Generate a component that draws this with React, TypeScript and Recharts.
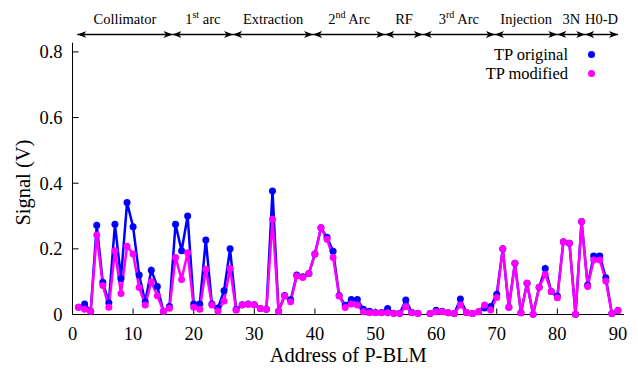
import React from "react";
import { LineChart, Line, XAxis, YAxis, ReferenceLine, Legend } from "recharts";

// P-BLM addresses 1..90 (58 has no reading)
const addresses = [
  1, 2, 3, 4, 5, 6, 7, 8, 9, 10, 11, 12, 13, 14, 15, 16, 17, 18, 19, 20,
  21, 22, 23, 24, 25, 26, 27, 28, 29, 30, 31, 32, 33, 34, 35, 36, 37, 38, 39, 40,
  41, 42, 43, 44, 45, 46, 47, 48, 49, 50, 51, 52, 53, 54, 55, 56, 57, 58, 59, 60,
  61, 62, 63, 64, 65, 66, 67, 68, 69, 70, 71, 72, 73, 74, 75, 76, 77, 78, 79, 80,
  81, 82, 83, 84, 85, 86, 87, 88, 89, 90,
];

const tpOriginal = [
  0.022, 0.032, 0.01, 0.272, 0.098, 0.036, 0.275, 0.11, 0.341, 0.267,
  0.12, 0.039, 0.135, 0.085, 0.01, 0.024, 0.275, 0.194, 0.3, 0.032,
  0.032, 0.227, 0.032, 0.02, 0.072, 0.2, 0.015, 0.03, 0.032, 0.03,
  0.018, 0.016, 0.376, 0.01, 0.058, 0.045, 0.12, 0.115, 0.125, 0.184,
  0.264, 0.235, 0.193, 0.058, 0.028, 0.046, 0.046, 0.016, 0.01, 0.006,
  0.006, 0.018, 0.004, 0.004, 0.044, 0.006, 0.004, null, 0.003, 0.013,
  0.01, 0.005, 0.003, 0.047, 0.006, 0.003, 0.008, 0.02, 0.024, 0.062,
  0.2, 0.022, 0.156, 0.005, 0.095, 0.001, 0.083, 0.14, 0.07, 0.056,
  0.222, 0.217, 0.001, 0.283, 0.09, 0.178, 0.178, 0.112, 0.003, 0.012,
];

const tpModified = [
  0.022, 0.016, 0.01, 0.242, 0.088, 0.022, 0.194, 0.064, 0.208, 0.184,
  0.082, 0.029, 0.1, 0.057, 0.01, 0.019, 0.174, 0.107, 0.188, 0.022,
  0.016, 0.138, 0.029, 0.01, 0.041, 0.14, 0.013, 0.029, 0.031, 0.03,
  0.018, 0.016, 0.29, 0.01, 0.056, 0.039, 0.117, 0.113, 0.125, 0.184,
  0.264, 0.229, 0.174, 0.056, 0.021, 0.032, 0.029, 0.008, 0.005, 0.005,
  0.005, 0.005, 0.003, 0.003, 0.024, 0.005, 0.003, null, 0.003, 0.008,
  0.008, 0.005, 0.003, 0.029, 0.006, 0.003, 0.008, 0.029, 0.014, 0.052,
  0.2, 0.022, 0.156, 0.005, 0.095, 0.001, 0.083, 0.122, 0.07, 0.051,
  0.222, 0.217, 0.001, 0.283, 0.085, 0.166, 0.166, 0.102, 0.003, 0.012,
];

const xTicks = [0, 10, 20, 30, 40, 50, 60, 70, 80, 90];
const yTicks = [0, 0.2, 0.4, 0.6, 0.8];

// ring sections along the address axis
const sectionEdges = [0.8, 16.5, 26.5, 39.7, 51.6, 57.8, 69.7, 80, 84.6, 90];
const sectionNames = [
  "Collimator", "1^{st} arc", "Extraction", "2^{nd} Arc", "RF",
  "3^{rd} Arc", "Injection", "3N", "H0-D",
];

const seriesNames = ["TP original", "TP modified"];
const seriesColors = ["#0000ff", "#ff00ff"];

const data = addresses.map((a, i) => ({
  address: a,
  original: tpOriginal[i],
  modified: tpModified[i],
}));

const FONT = "'Liberation Serif', 'Times New Roman', serif";
const ARROW_Y = 0.853;

const SectionLabel = (props: any) => {
  const vb = props.viewBox || {};
  const cx = vb.width !== undefined ? vb.x + vb.width / 2 : (vb.x1 + vb.x2) / 2;
  const y = vb.y !== undefined ? vb.y : vb.y1;
  const m = /^(.*)\^\{(.*)\}(.*)$/.exec(props.name);
  return (
    <text x={cx} y={y - 10} textAnchor="middle" fontSize={14.5} fontFamily={FONT} fill="#000">
      {m ? (
        <>
          <tspan>{m[1]}</tspan>
          <tspan fontSize={10} dy={-6}>{m[2]}</tspan>
          <tspan dy={6}>{m[3]}</tspan>
        </>
      ) : (
        props.name
      )}
    </text>
  );
};

const LegendBox = () => (
  <div style={{ fontFamily: FONT, fontSize: 16.5, color: "#000" }}>
    {seriesNames.map((n, i) => (
      <div key={n} style={{ display: "flex", justifyContent: "flex-end", alignItems: "center", height: 19 }}>
        <span style={{ lineHeight: "19px" }}>{n}</span>
        <span
          style={{
            display: "inline-block",
            width: 7,
            height: 7,
            borderRadius: "50%",
            background: seriesColors[i],
            marginLeft: 20,
          }}
        />
      </div>
    ))}
  </div>
);

const yLabel = (props: any) => {
  const vb = props.viewBox;
  const cx = vb.x + 11;
  const cy = vb.y + vb.height / 2 + 4;
  return (
    <text x={cx} y={cy} transform={`rotate(-90 ${cx} ${cy})`} textAnchor="middle" dominantBaseline="central"
      fontSize={20.5} fontFamily={FONT} fill="#000">
      Signal (V)
    </text>
  );
};

const xLabel = (props: any) => {
  const vb = props.viewBox;
  return (
    <text x={vb.x + vb.width / 2} y={vb.y + 47.5} textAnchor="middle" fontSize={20.5} fontFamily={FONT} fill="#000">
      Address of P-BLM
    </text>
  );
};

const tickStyle = { fill: "#000", fontSize: 18.5, fontFamily: FONT };

export default function App() {
  return (
    <div style={{ position: "absolute", left: 0, top: 0, fontFamily: FONT }}>
      <svg width={0} height={0} style={{ position: "absolute" }}>
        <defs>
          <marker id="secArrow" viewBox="0 0 9 7" refX={9} refY={3.5} markerWidth={9} markerHeight={7}
            markerUnits="userSpaceOnUse" orient="auto-start-reverse">
            <path d="M0,0 L9,3.5 L0,7 L2.5,3.5 z" fill="#000" />
          </marker>
        </defs>
      </svg>
      <LineChart width={638} height={369} data={data} margin={{ top: 42.7, right: 14, left: 12.5, bottom: 0 }}>
        <XAxis dataKey="address" type="number" domain={[0, 91]} ticks={xTicks} interval={0}
          height={54.5} tickSize={-6} tickMargin={18.5} stroke="#000" tick={tickStyle}
          label={xLabel} />
        <XAxis xAxisId="top" orientation="top" dataKey="address" type="number" domain={[0, 91]}
          ticks={xTicks} interval={0} height={0} tickSize={-6} tick={false} stroke="#000" />
        <YAxis type="number" domain={[0, 0.828]} ticks={yTicks} interval={0} width={60}
          tickSize={-6} tickMargin={16} stroke="#000" tick={tickStyle}
          tickFormatter={(v: number) => (v === 0 ? "0" : String(v))} label={yLabel} />
        <YAxis yAxisId="right" orientation="right" type="number" domain={[0, 0.828]} ticks={yTicks}
          interval={0} width={0} tickSize={-6} tick={false} stroke="#000" />
        {sectionNames.map((name, i) => (
          <ReferenceLine
            key={name}
            segment={[
              { x: sectionEdges[i], y: ARROW_Y },
              { x: sectionEdges[i + 1], y: ARROW_Y },
            ]}
            ifOverflow="visible"
            stroke="#000"
            strokeWidth={1.5}
            markerStart="url(#secArrow)"
            markerEnd="url(#secArrow)"
            label={(p: any) => <SectionLabel {...p} name={name} />}
          />
        ))}
        <Line dataKey="original" name={seriesNames[0]} stroke={seriesColors[0]} strokeWidth={2.5}
          dot={{ r: 3.5, fill: seriesColors[0], stroke: "none" }} isAnimationActive={false} />
        <Line dataKey="modified" name={seriesNames[1]} stroke={seriesColors[1]} strokeWidth={2.5}
          dot={{ r: 3.5, fill: seriesColors[1], stroke: "none" }} isAnimationActive={false} />
        <Legend layout="vertical" align="center" verticalAlign="middle"
          wrapperStyle={{ left: 440, top: 45, width: 155 }} content={() => <LegendBox />} />
      </LineChart>
    </div>
  );
}
